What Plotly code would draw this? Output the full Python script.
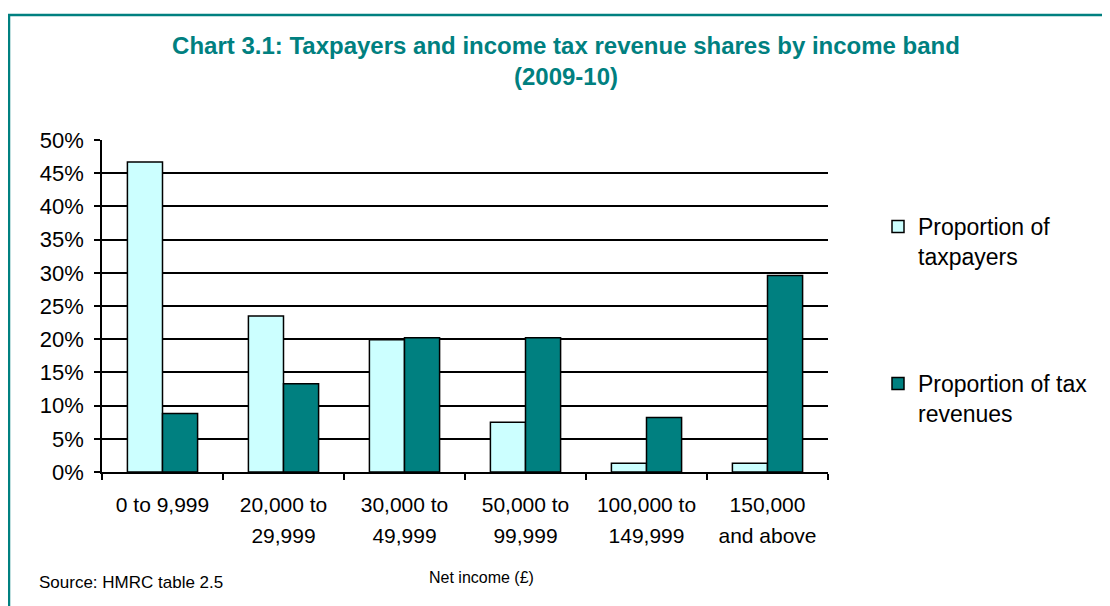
import plotly.graph_objects as go

bands = ["0 to 9,999", "20,000 to 29,999", "30,000 to 49,999",
         "50,000 to 99,999", "100,000 to 149,999", "150,000 and above"]
band_line1 = ["0 to 9,999", "20,000 to", "30,000 to", "50,000 to", "100,000 to", "150,000"]
band_line2 = ["", "29,999", "49,999", "99,999", "149,999", "and above"]
taxpayers = [0.467, 0.235, 0.199, 0.075, 0.013, 0.013]
revenues = [0.088, 0.133, 0.202, 0.202, 0.082, 0.296]

TEAL = "#008080"
FONT = "Liberation Sans, Arial, sans-serif"

# page has an 8px body margin, so figure coords = screen coords - 8
W, H = 1102, 598
L, R, T, B = 94, 820, 132, 464
def px(x):
    return (x - 8 - L) / (R - L)
def py(y):
    return (B - (y - 8)) / (B - T)

fig = go.Figure()
fig.add_trace(go.Bar(
    x=bands, y=taxpayers, name="Proportion of<br>taxpayers",
    marker=dict(color="#CCFFFF", line=dict(color="black", width=1.5)),
    legend="legend", showlegend=True,
))
fig.add_trace(go.Bar(
    x=bands, y=revenues, name="Proportion of tax<br>revenues",
    marker=dict(color=TEAL, line=dict(color="black", width=1.5)),
    legend="legend2", showlegend=True,
))
# carrier for the second line of the category labels (draws nothing)
fig.add_trace(go.Scatter(
    x=list(range(len(bands))), y=[0] * len(bands), xaxis="x2",
    mode="none", showlegend=False, hoverinfo="skip",
))

fig.update_layout(
    width=W, height=H,
    margin=dict(l=L, r=W - R, t=T, b=H - B),
    paper_bgcolor="white", plot_bgcolor="white",
    font=dict(family=FONT, color="black", size=21),
    barmode="group", bargap=0.42, bargroupgap=0,
    showlegend=True,
    title=dict(
        text="<b>Chart 3.1: Taxpayers and income tax revenue shares by income band<br>(2009-10)</b>",
        x=558 / W, xanchor="center", y=1 - 46 / H, yanchor="middle",
        font=dict(family=FONT, size=24, color=TEAL),
    ),
    xaxis=dict(
        type="category", categoryorder="array", categoryarray=bands,
        tickmode="array", tickvals=bands, ticktext=band_line1,
        showline=True, linecolor="black", linewidth=1.5,
        ticks="outside", ticklen=6, tickcolor="black", tickwidth=1.5,
        tickson="boundaries", showgrid=False,
        tickfont=dict(size=21), ticklabelstandoff=13,
    ),
    xaxis2=dict(
        overlaying="x", anchor="y", side="bottom",
        range=[-0.5, len(bands) - 0.5],
        tickmode="array", tickvals=list(range(len(bands))), ticktext=band_line2,
        showline=False, showgrid=False, zeroline=False, ticks="",
        tickfont=dict(size=21), ticklabelstandoff=49,
    ),
    yaxis=dict(
        range=[0, 0.5], dtick=0.05, tickformat=".0%",
        showline=True, linecolor="black", linewidth=1.5,
        ticks="outside", ticklen=6, tickcolor="black", tickwidth=1.5,
        showgrid=True, gridcolor="black", gridwidth=1.5,
        zeroline=False, tickfont=dict(size=22), ticklabelstandoff=6,
    ),
    legend=dict(
        x=px(878), y=py(205), xanchor="left", yanchor="top",
        font=dict(size=23), valign="top", bgcolor="rgba(0,0,0,0)",
    ),
    legend2=dict(
        x=px(878), y=py(362), xanchor="left", yanchor="top",
        font=dict(size=23), valign="top", bgcolor="rgba(0,0,0,0)",
    ),
    shapes=[dict(
        type="rect", xref="paper", yref="paper",
        x0=px(9), x1=px(1120), y0=py(615), y1=py(15),
        line=dict(color=TEAL, width=2.5), layer="below",
    )],
    annotations=[
        dict(text="Source: HMRC table 2.5", xref="paper", yref="paper",
             x=px(37), y=py(582), xanchor="left", yanchor="middle",
             showarrow=False, font=dict(size=17)),
        dict(text="Net income (£)", xref="paper", yref="paper",
             x=px(482), y=py(577), xanchor="center", yanchor="middle",
             showarrow=False, font=dict(size=16)),
    ],
)

fig.write_html("out.html")
